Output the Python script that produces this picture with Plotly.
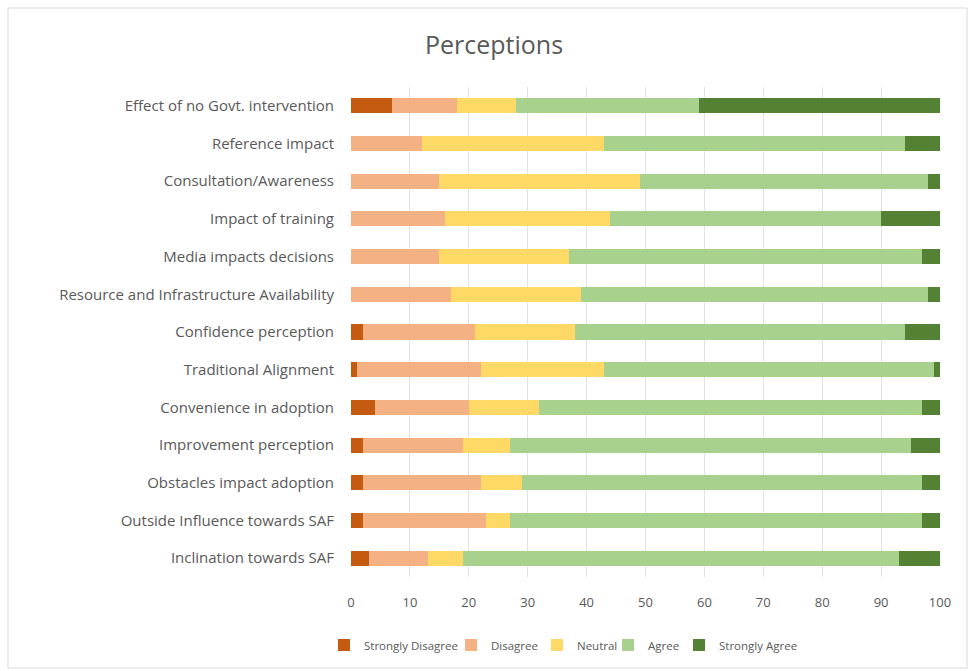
import plotly.graph_objects as go

categories = [
    "Effect of no Govt. intervention",
    "Reference impact",
    "Consultation/Awareness",
    "Impact of training",
    "Media impacts decisions",
    "Resource and Infrastructure Availability",
    "Confidence perception",
    "Traditional Alignment",
    "Convenience in adoption",
    "Improvement perception",
    "Obstacles impact adoption",
    "Outside Influence towards SAF",
    "Inclination towards SAF",
]

strongly_disagree = [7, 0, 0, 0, 0, 0, 2, 1, 4, 2, 2, 2, 3]
disagree = [11, 12, 15, 16, 15, 17, 19, 21, 16, 17, 20, 21, 10]
neutral = [10, 31, 34, 28, 22, 22, 17, 21, 12, 8, 7, 4, 6]
agree = [31, 51, 49, 46, 60, 59, 56, 56, 65, 68, 68, 70, 74]
strongly_agree = [41, 6, 2, 10, 3, 2, 6, 1, 3, 5, 3, 3, 7]

x_ticks = [0, 10, 20, 30, 40, 50, 60, 70, 80, 90, 100]

series = [
    ("Strongly Disagree", strongly_disagree, "#C55A11"),
    ("Disagree", disagree, "#F4B183"),
    ("Neutral", neutral, "#FFD966"),
    ("Agree", agree, "#A9D18E"),
    ("Strongly Agree", strongly_agree, "#548235"),
]

font_color = "#595959"
W, H = 968, 671
ml, mr, mt, mb = 351, 28, 87, 94
pw, ph = W - ml - mr, H - mt - mb


def px_to_paper_x(px):
    return (px - ml) / pw


def px_to_paper_y(py):
    return (H - mb - py) / ph


# left edge (px) of each legend entry along the bottom row
legend_left_px = [324, 451, 537, 608, 679]

fig = go.Figure()
layout_legends = {}
for i, ((name, vals, color), lx) in enumerate(zip(series, legend_left_px)):
    key = "legend" if i == 0 else f"legend{i + 1}"
    fig.add_trace(go.Bar(
        y=categories, x=vals, name=name, orientation="h",
        marker=dict(color=color, line=dict(width=0)),
        legend=key,
    ))
    layout_legends[key] = dict(
        orientation="h", x=px_to_paper_x(lx), xanchor="left",
        y=px_to_paper_y(645), yanchor="middle",
        font=dict(size=11.5, color=font_color), itemwidth=30,
        bgcolor="rgba(0,0,0,0)",
    )

fig.update_layout(
    width=W, height=H,
    margin=dict(l=ml, r=mr, t=mt, b=mb),
    barmode="stack",
    bargap=0.6,
    paper_bgcolor="white",
    plot_bgcolor="white",
    font=dict(family="Open Sans, Liberation Sans, sans-serif", size=12, color=font_color),
    title=dict(text="Perceptions", x=494 / W, xanchor="center", xref="container",
               y=1 - 45 / H, yanchor="middle", font=dict(size=25, color=font_color)),
    xaxis=dict(range=[0, 100], tickvals=x_ticks, showgrid=True, gridcolor="#E3E3E3",
               gridwidth=1, zeroline=False, showline=False, ticks="",
               ticklabelstandoff=16,
               tickfont=dict(size=13, color=font_color)),
    yaxis=dict(autorange="reversed", showgrid=False, ticks="", showline=False,
               ticklabelstandoff=16, tickfont=dict(size=15, color=font_color)),
    showlegend=True,
    **layout_legends,
)

# light frame around the chart area
fig.add_shape(
    type="rect", xref="paper", yref="paper",
    x0=px_to_paper_x(8), x1=px_to_paper_x(967),
    y0=px_to_paper_y(668), y1=px_to_paper_y(8),
    line=dict(color="#D9D9D9", width=1), fillcolor="rgba(0,0,0,0)", layer="below",
)

fig.write_html("out.html")
